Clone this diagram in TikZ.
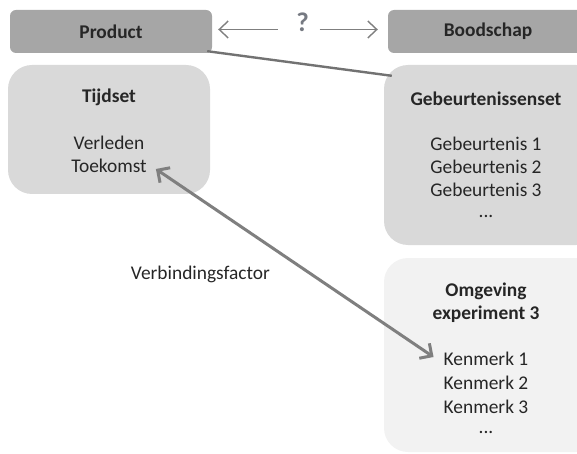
\documentclass[tikz,border=0pt]{standalone}
\usepackage{fontspec}
\setmainfont{Carlito}
\usetikzlibrary{arrows.meta,calc}
\definecolor{headgray}{HTML}{A6A6A6}
\definecolor{setgray}{HTML}{D9D9D9}
\definecolor{envgray}{HTML}{F2F2F2}
\definecolor{linkgray}{HTML}{7F7F7F}
\definecolor{txt}{HTML}{262626}
\definecolor{qgray}{HTML}{767A82}
\begin{document}
\begin{tikzpicture}[x=1pt,y=-1pt,
  every node/.style={text=txt, font=\fontsize{19.4}{23}\selectfont},
  headbox/.style={fill=headgray, rounded corners=6pt, minimum height=43pt, inner sep=0pt},
  setbox/.style={rounded corners=24pt, inner sep=0pt},
  label/.style={inner sep=1pt, align=center},
  dots/.style={inner sep=0pt, text height=3pt, text depth=0pt},
  title/.style={label, font=\fontsize{19.4}{23}\selectfont\bfseries},
  thinarrow/.style={draw=linkgray, line width=1.4pt, -{Straight Barb[length=9pt,width=17pt,line width=1.4pt]}},
  linkarrow/.style={draw=linkgray, line width=3pt,
    {Straight Barb[length=9pt,width=18pt,line width=3pt]}-{Straight Barb[length=9pt,width=18pt,line width=3pt]}}
]
\useasboundingbox (0,0) rectangle (577,454);

% header boxes
\node[headbox, minimum width=202pt] (prod) at (111,31.5) {};
\node[headbox, minimum width=213pt] (bood) at (494.5,31.5) {};
\node[title] at (prod.center) {Product};
\node[title] at (488,31.5) {Boodschap};

% set boxes
\node[setbox, fill=setgray, minimum width=202pt, minimum height=129pt] (tijd) at (109,129.5) {};
\node[setbox, fill=setgray, minimum width=216pt, minimum height=180pt] (geb) at (492,155) {};
\node[setbox, fill=envgray, minimum width=216pt, minimum height=194pt] (omg) at (492,355) {};

% set contents
\node[title] (tijdt) at (109,97) {Tijdset};
\node[label] (verl) at (109,143) {Verleden};
\node[label] (toek) at (109,166) {Toekomst};

\node[title] (gebt) at (486,99) {Gebeurtenissenset};
\node[label] (g1) at (486,144) {Gebeurtenis 1};
\node[label] (g2) at (486,167) {Gebeurtenis 2};
\node[label] (g3) at (486,190) {Gebeurtenis 3};
\node[dots] (g4) at (486,216) {...};

\node[title] (omgt) at (486,302.5) {Omgeving\\experiment 3};
\node[label] (k1) at (486,359) {Kenmerk 1};
\node[label] (k2) at (486,383) {Kenmerk 2};
\node[label] (k3) at (486,407) {Kenmerk 3};
\node[dots] (k4) at (486,432) {...};

% question between the header boxes
\node[font=\fontsize{27}{30}\selectfont\bfseries, text=qgray, inner sep=0pt] (q) at (302.5,22) {?};
\coordinate (qa) at (298.5,29.5);
\draw[thinarrow, shorten <=21pt, shorten >=6pt] (qa) -- (prod.east |- qa);
\draw[thinarrow, shorten <=21pt, shorten >=10pt] (qa) -- (bood.west |- qa);

% link between product and event set
\draw[draw=linkgray!90!black, line width=2.4pt]
  ($(prod.south east)+(-5,-2)$) -- ($(geb.north west)+(8,11)$);

% connection factor
\draw[linkarrow] ($(toek.east)+(8,3)$) -- ($(k1.west)+(-9,-2)$);
\node[label] (vf) at (200.5,274) {Verbindingsfactor};
\end{tikzpicture}
\end{document}
